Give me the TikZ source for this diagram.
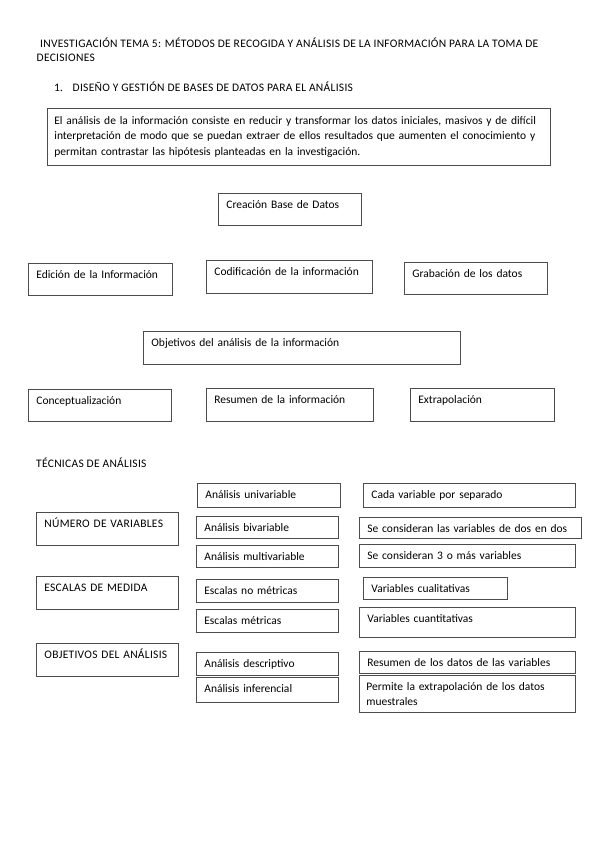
\documentclass[tikz,border=0pt]{standalone}
\usepackage{fontspec}
\setmainfont{Carlito}
\usetikzlibrary{positioning}
\newcommand{\mayus}{\addfontfeature{LetterSpace=2.5}}
\begin{document}
\begin{tikzpicture}[x=1pt, y=-1pt, font=\fontsize{11.5}{15.5}\selectfont,
  caja/.style={draw=black!70, line width=0.75pt, anchor=north west, align=left,
    inner xsep=8pt, inner ysep=0pt, text height=15.5pt},
  parrafo/.style={draw=black!70, line width=0.75pt, anchor=north west, align=left,
    inner xsep=7pt, inner ysep=0pt},
  texto/.style={anchor=base west, inner sep=0pt}]
\useasboundingbox (0,0) rectangle (599,848);

\node (titulo) [texto] at (40,48) {\mayus INVESTIGACIÓN TEMA 5: MÉTODOS DE RECOGIDA Y ANÁLISIS DE LA INFORMACIÓN PARA LA TOMA DE};
\node (titulo2) [texto] at (36.5,62) {\mayus DECISIONES};
\node (num) [texto] at (54,92) {1.};
\node (seccion) [texto] at (72.5,92) {\mayus DISEÑO Y GESTIÓN DE BASES DE DATOS PARA EL ANÁLISIS};
\node (intro) [parrafo, text width=489pt, minimum height=57pt] at (47,108)
  {El análisis de la información consiste en reducir y transformar los datos iniciales, masivos y de difícil\\
   interpretación de modo que se puedan extraer de ellos resultados que aumenten el conocimiento y\\
   permitan contrastar las hipótesis planteadas en la investigación.};

\node (creacion) [caja, text width=127pt, text depth=16.5pt] at (218,193) {Creación Base de Datos};
\node (edicion) [caja, text width=128pt, text depth=16.5pt] at (28,263) {Edición de la Información};
\node (codif) [caja, text width=150pt, text depth=17.5pt] at (206,260) {Codificación de la información};
\node (grabac) [caja, text width=127pt, text depth=16.5pt] at (404,262) {Grabación de los datos};
\node (objet) [caja, text width=301pt, text depth=17.5pt] at (143,331) {Objetivos del análisis de la información};
\node (concep) [caja, text width=127pt, text depth=16.5pt] at (28,389) {Conceptualización};
\node (resum) [caja, text width=151pt, text depth=17.5pt] at (206,388) {Resumen de la información};
\node (extrap) [caja, text width=128pt, text depth=17.5pt] at (410,388) {Extrapolación};

\node (tecnicas) [texto] at (36,467) {\mayus TÉCNICAS DE ANÁLISIS};

\node (numvar) [caja, text width=126pt, text depth=17.5pt] at (36,512) {\mayus NÚMERO DE VARIABLES};
\node (escalas) [caja, text width=126pt, text depth=17.5pt] at (36,576) {\mayus ESCALAS DE MEDIDA};
\node (objan) [caja, text width=126pt, text depth=17.5pt] at (36,643) {\mayus OBJETIVOS DEL ANÁLISIS};

\node (univ) [caja, text width=127pt, text depth=8.5pt] at (197,483) {Análisis univariable};
\node (biv) [caja, text width=126pt, text depth=6.5pt] at (196,516) {Análisis bivariable};
\node (multi) [caja, text width=126pt, text depth=6.5pt] at (196,545) {Análisis multivariable};
\node (nomet) [caja, text width=126pt, text depth=7.5pt] at (196,579) {Escalas no métricas};
\node (metr) [caja, text width=126pt, text depth=7.5pt] at (196,609) {Escalas métricas};
\node (descr) [caja, text width=126pt, text depth=7.5pt] at (196,652) {Análisis descriptivo};
\node (infer) [caja, text width=126pt, text depth=9.5pt] at (196,677) {Análisis inferencial};

\node (cada) [caja, text width=196pt, text depth=8.5pt] at (363,483) {Cada variable por separado};
\node (dosdos) [caja, text width=206pt, text depth=5.5pt] at (359,517) {Se consideran las variables de dos en dos};
\node (tresmas) [caja, text width=200pt, text depth=7.5pt] at (359,544) {Se consideran 3 o más variables};
\node (cualit) [caja, text width=128pt, text depth=6.5pt] at (363,577) {Variables cualitativas};
\node (cuantit) [caja, text width=200pt, text depth=14.5pt] at (359,607) {Variables cuantitativas};
\node (resdat) [caja, text width=200pt, text depth=6.5pt] at (359,651) {Resumen de los datos de las variables};
\node (permite) [parrafo, text width=202pt, minimum height=37pt] at (359,675)
  {Permite la extrapolación de los datos\\ muestrales};
\end{tikzpicture}
\end{document}
